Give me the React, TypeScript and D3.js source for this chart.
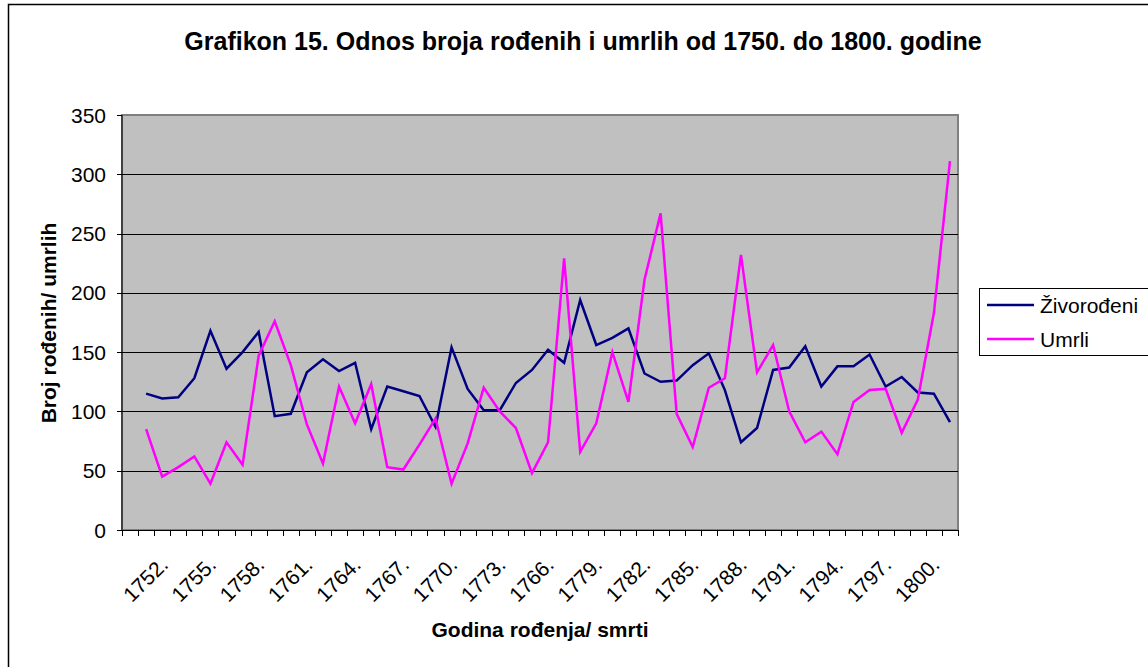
import React, { useRef, useEffect } from "react";
import * as d3 from "d3";

/* category labels (first slot is empty in the source sheet) */
const categories = [
  "", "1750.", "1751.", "1752.", "1753.", "1754.", "1755.", "1756.", "1757.", "1758.",
  "1759.", "1760.", "1761.", "1762.", "1763.", "1764.", "1765.", "1766.", "1767.", "1768.",
  "1769.", "1770.", "1771.", "1772.", "1773.", "1774.", "1775.", "1766.", "1777.", "1778.",
  "1779.", "1780.", "1781.", "1782.", "1783.", "1784.", "1785.", "1786.", "1787.", "1788.",
  "1789.", "1790.", "1791.", "1792.", "1793.", "1794.", "1795.", "1796.", "1797.", "1798.",
  "1799.", "1800.",
];

/* Živorođeni */
const births = [
  null, 115, 111, 112, 128, 168, 136, 150, 167, 96,
  98, 133, 144, 134, 141, 85, 121, 117, 113, 87,
  154, 119, 101, 101, 124, 135, 152, 141, 194, 156,
  162, 170, 132, 125, 126, 139, 149, 118, 74, 86,
  135, 137, 155, 121, 138, 138, 148, 121, 129, 116,
  115, 91,
];

/* Umrli */
const deaths = [
  null, 85, 45, 53, 62, 39, 74, 55, 147, 176,
  139, 89, 56, 121, 90, 123, 53, 51, 72, 94,
  39, 73, 120, 100, 86, 48, 74, 229, 66, 90,
  150, 108, 211, 267, 98, 70, 120, 128, 232, 133,
  156, 100, 74, 83, 64, 108, 118, 119, 82, 110,
  183, 311,
];

const yTicks = [0, 50, 100, 150, 200, 250, 300, 350];

const series = [
  { name: "Živorođeni", values: births, color: "#000080" },
  { name: "Umrli", values: deaths, color: "#FF00FF" },
];

const FONT = "'Liberation Sans', Arial, sans-serif";

const App = () => {
  const svgRef = useRef(null);

  const drawChart = () => {
    const W = 1148;
    const H = 667;
    const plot = { left: 122, right: 958, top: 115, bottom: 530 };

    const svg = d3.select(svgRef.current);
    svg.selectAll("*").remove();
    svg.attr("width", W).attr("height", H);

    /* chart area border */
    svg
      .append("rect")
      .attr("x", 8.5)
      .attr("y", 4.5)
      .attr("width", W + 20)
      .attr("height", H + 20)
      .attr("fill", "#fff")
      .attr("stroke", "#000")
      .attr("stroke-width", 1.5);

    const x = d3
      .scaleBand()
      .domain(categories.map((_, i) => i))
      .range([plot.left, plot.right]);

    const y = d3.scaleLinear().domain([0, 350]).range([plot.bottom, plot.top]);

    /* plot background */
    svg
      .append("rect")
      .attr("x", plot.left)
      .attr("y", plot.top)
      .attr("width", plot.right - plot.left)
      .attr("height", plot.bottom - plot.top)
      .attr("fill", "#C0C0C0")
      .attr("stroke", "#808080")
      .attr("stroke-width", 2);

    /* gridlines */
    svg
      .append("g")
      .selectAll("line")
      .data(yTicks.filter((t) => t > 0 && t < 350))
      .enter()
      .append("line")
      .attr("x1", plot.left)
      .attr("x2", plot.right)
      .attr("y1", (d) => Math.round(y(d)) + 0.5)
      .attr("y2", (d) => Math.round(y(d)) + 0.5)
      .attr("stroke", "#000")
      .attr("stroke-width", 1);

    /* y axis */
    const yAxis = svg.append("g");
    yAxis
      .append("line")
      .attr("x1", plot.left)
      .attr("x2", plot.left)
      .attr("y1", plot.top)
      .attr("y2", plot.bottom)
      .attr("stroke", "#000")
      .attr("stroke-width", 1);
    yAxis
      .selectAll(".ytick")
      .data(yTicks)
      .enter()
      .append("line")
      .attr("x1", plot.left - 5)
      .attr("x2", plot.left)
      .attr("y1", (d) => Math.round(y(d)) + 0.5)
      .attr("y2", (d) => Math.round(y(d)) + 0.5)
      .attr("stroke", "#000");
    yAxis
      .selectAll("text")
      .data(yTicks)
      .enter()
      .append("text")
      .attr("x", 106)
      .attr("y", (d) => y(d) + 7.5)
      .attr("text-anchor", "end")
      .style("font-family", FONT)
      .style("font-size", "21px")
      .text((d) => d);

    /* x axis */
    const xAxis = svg.append("g");
    xAxis
      .append("line")
      .attr("x1", plot.left)
      .attr("x2", plot.right)
      .attr("y1", plot.bottom + 0.5)
      .attr("y2", plot.bottom + 0.5)
      .attr("stroke", "#000");
    const boundaries = categories.map((_, i) => x(i)).concat([plot.right]);
    xAxis
      .selectAll(".xtick")
      .data(boundaries)
      .enter()
      .append("line")
      .attr("x1", (d) => Math.round(d) + 0.5)
      .attr("x2", (d) => Math.round(d) + 0.5)
      .attr("y1", plot.bottom)
      .attr("y2", plot.bottom + 6)
      .attr("stroke", "#000");
    xAxis
      .selectAll("text")
      .data(categories.map((c, i) => ({ c, i })).filter((d) => d.i > 0 && d.i % 3 === 0))
      .enter()
      .append("text")
      .attr(
        "transform",
        (d) => `translate(${x(d.i) + x.bandwidth() / 2 - 9}, 566) rotate(-45)`
      )
      .attr("text-anchor", "end")
      .style("font-family", FONT)
      .style("font-size", "21px")
      .text((d) => d.c);

    /* series lines */
    const line = d3
      .line()
      .defined((d) => d != null)
      .x((d, i) => x(i) + x.bandwidth() / 2)
      .y((d) => y(d));

    series.forEach((s) => {
      svg
        .append("path")
        .datum(s.values)
        .attr("fill", "none")
        .attr("stroke", s.color)
        .attr("stroke-width", 2.5)
        .attr("stroke-linejoin", "miter")
        .attr("d", line);
    });

    /* title */
    svg
      .append("text")
      .attr("x", 583)
      .attr("y", 50)
      .attr("text-anchor", "middle")
      .style("font-family", FONT)
      .style("font-size", "25px")
      .style("font-weight", "bold")
      .text("Grafikon 15. Odnos broja rođenih i umrlih od 1750. do 1800. godine");

    /* y axis title */
    svg
      .append("text")
      .attr("transform", "translate(56, 323) rotate(-90)")
      .attr("text-anchor", "middle")
      .style("font-family", FONT)
      .style("font-size", "21px")
      .style("font-weight", "bold")
      .text("Broj rođenih/ umrlih");

    /* x axis title */
    svg
      .append("text")
      .attr("x", 540)
      .attr("y", 637)
      .attr("text-anchor", "middle")
      .style("font-family", FONT)
      .style("font-size", "21px")
      .style("font-weight", "bold")
      .text("Godina rođenja/ smrti");

    /* legend */
    const legend = svg.append("g");
    legend
      .append("rect")
      .attr("x", 979.5)
      .attr("y", 288.5)
      .attr("width", 200)
      .attr("height", 67)
      .attr("fill", "#fff")
      .attr("stroke", "#000")
      .attr("stroke-width", 1);
    series.forEach((s, i) => {
      const ly = 305 + i * 34;
      legend
        .append("line")
        .attr("x1", 987)
        .attr("x2", 1034)
        .attr("y1", ly)
        .attr("y2", ly)
        .attr("stroke", s.color)
        .attr("stroke-width", 2.5);
      legend
        .append("text")
        .attr("x", 1040)
        .attr("y", ly + 7.5)
        .style("font-family", FONT)
        .style("font-size", "21px")
        .text(s.name);
    });
  };

  useEffect(() => {
    drawChart();
  }, []);

  return (
    <div style={{ position: "absolute", left: 0, top: 0 }}>
      <svg ref={svgRef} style={{ display: "block" }} />
    </div>
  );
};

export default App;
